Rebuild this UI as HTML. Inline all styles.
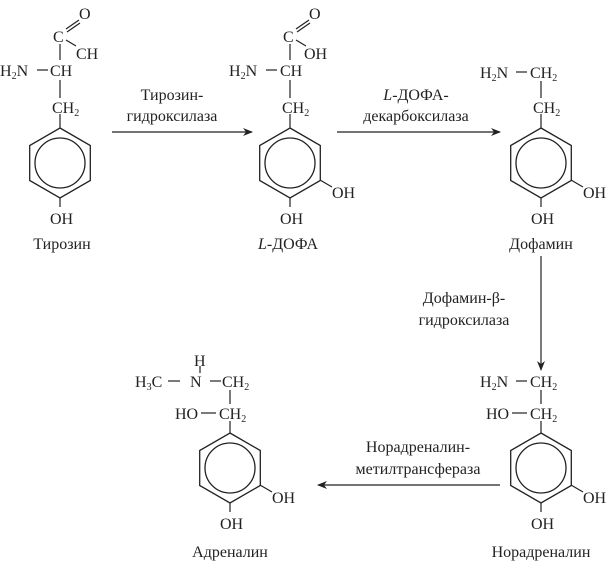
<!DOCTYPE html>
<html><head><meta charset="utf-8"><style>
html,body{margin:0;padding:0;background:#fff}
svg{display:block}
text{font-family:"Liberation Serif",serif;font-size:16px;fill:#222}
.s{font-size:10px}
</style></head><body>
<svg width="611" height="570" viewBox="0 0 611 570" xmlns="http://www.w3.org/2000/svg">
<defs>
<g id="ring" fill="none" stroke="#222" stroke-width="1.3">
<polygon points="0,-35 30.3,-17.5 30.3,17.5 0,35 -30.3,17.5 -30.3,-17.5"/>
<circle r="25"/>
</g>
<marker id="ar" markerWidth="10" markerHeight="8" refX="9" refY="4" orient="auto" markerUnits="userSpaceOnUse">
<path d="M0,0 L10,4 L0,8 L3,4 Z" fill="#222"/>
</marker>
</defs>
<g stroke="#222" stroke-width="1.2" fill="none">
<line x1="60" y1="44" x2="60" y2="60"/>
<line x1="66" y1="29" x2="79" y2="20"/><line x1="67" y1="32" x2="80" y2="23"/>
<line x1="66" y1="40" x2="76" y2="46"/>
<line x1="37" y1="70" x2="48" y2="70"/>
<line x1="60" y1="80" x2="60" y2="98"/>
<line x1="60" y1="114" x2="60" y2="128"/>
<line x1="60" y1="198" x2="60" y2="207"/>
<line x1="290" y1="44" x2="290" y2="60"/>
<line x1="296" y1="29" x2="309" y2="20"/><line x1="297" y1="32" x2="310" y2="23"/>
<line x1="296" y1="40" x2="306" y2="46"/>
<line x1="266" y1="70" x2="277" y2="70"/>
<line x1="290" y1="80" x2="290" y2="98"/>
<line x1="290" y1="114" x2="290" y2="128"/>
<line x1="290" y1="198" x2="290" y2="207"/>
<line x1="320" y1="180" x2="332" y2="187"/>
<line x1="516" y1="72" x2="527" y2="72"/>
<line x1="541" y1="81" x2="541" y2="98"/>
<line x1="541" y1="114" x2="541" y2="128"/>
<line x1="541" y1="198" x2="541" y2="207"/>
<line x1="571" y1="180" x2="583" y2="187"/>
<line x1="516" y1="381" x2="527" y2="381"/>
<line x1="541" y1="390" x2="541" y2="404"/>
<line x1="512" y1="413" x2="527" y2="413"/>
<line x1="541" y1="421" x2="541" y2="433"/>
<line x1="541" y1="503" x2="541" y2="512"/>
<line x1="571" y1="485" x2="583" y2="492"/>
<line x1="168" y1="381" x2="180" y2="381"/>
<line x1="200" y1="366" x2="200" y2="373"/>
<line x1="210" y1="381" x2="221" y2="381"/>
<line x1="230" y1="390" x2="230" y2="404"/>
<line x1="201" y1="413" x2="216" y2="413"/>
<line x1="230" y1="421" x2="230" y2="433"/>
<line x1="230" y1="503" x2="230" y2="512"/>
<line x1="260" y1="485" x2="272" y2="492"/>
<line x1="112" y1="132" x2="252" y2="132" marker-end="url(#ar)"/>
<line x1="337" y1="132" x2="500" y2="132" marker-end="url(#ar)"/>
<line x1="541" y1="256" x2="541" y2="370" marker-end="url(#ar)"/>
<line x1="500" y1="485" x2="318" y2="485" marker-end="url(#ar)"/>
</g>
<use href="#ring" x="60" y="163"/>
<use href="#ring" x="290" y="163"/>
<use href="#ring" x="541" y="163"/>
<use href="#ring" x="541" y="468"/>
<use href="#ring" x="230" y="468"/>

<text x="79" y="19">O</text>
<text x="53" y="42">C</text>
<text x="76" y="59">CH</text>
<text x="0" y="76">H<tspan class="s" dy="3">2</tspan><tspan dy="-3">N</tspan></text>
<text x="50" y="76">CH</text>
<text x="52" y="113">CH<tspan class="s" dy="3">2</tspan></text>
<text x="50" y="224">OH</text>
<text x="62" y="249" text-anchor="middle">Тирозин</text>

<text x="309" y="19">O</text>
<text x="283" y="42">C</text>
<text x="304" y="59">OH</text>
<text x="229" y="76">H<tspan class="s" dy="3">2</tspan><tspan dy="-3">N</tspan></text>
<text x="280" y="76">CH</text>
<text x="282" y="113">CH<tspan class="s" dy="3">2</tspan></text>
<text x="332" y="198">OH</text>
<text x="280" y="224">OH</text>
<text x="288" y="249" text-anchor="middle"><tspan font-style="italic">L</tspan>-ДОФА</text>

<text x="480" y="78">H<tspan class="s" dy="3">2</tspan><tspan dy="-3">N</tspan></text>
<text x="530" y="78">CH<tspan class="s" dy="3">2</tspan></text>
<text x="533" y="113">CH<tspan class="s" dy="3">2</tspan></text>
<text x="583" y="198">OH</text>
<text x="531" y="224">OH</text>
<text x="541" y="249" text-anchor="middle">Дофамин</text>

<text x="480" y="387">H<tspan class="s" dy="3">2</tspan><tspan dy="-3">N</tspan></text>
<text x="530" y="387">CH<tspan class="s" dy="3">2</tspan></text>
<text x="486" y="419">HO</text>
<text x="530" y="419">CH<tspan class="s" dy="3">2</tspan></text>
<text x="583" y="503">OH</text>
<text x="531" y="529">OH</text>
<text x="541" y="557" text-anchor="middle">Норадреналин</text>

<text x="194" y="366">H</text>
<text x="135" y="387">H<tspan class="s" dy="3">3</tspan><tspan dy="-3">C</tspan></text>
<text x="190" y="387">N</text>
<text x="222" y="387">CH<tspan class="s" dy="3">2</tspan></text>
<text x="175" y="419">HO</text>
<text x="219" y="419">CH<tspan class="s" dy="3">2</tspan></text>
<text x="272" y="503">OH</text>
<text x="220" y="529">OH</text>
<text x="230" y="557" text-anchor="middle">Адреналин</text>

<text x="172" y="100" text-anchor="middle">Тирозин-</text>
<text x="172" y="121" text-anchor="middle">гидроксилаза</text>
<text x="416" y="100" text-anchor="middle"><tspan font-style="italic">L</tspan>-ДОФА-</text>
<text x="416" y="121" text-anchor="middle">декарбоксилаза</text>
<text x="464" y="303" text-anchor="middle">Дофамин-β-</text>
<text x="464" y="325" text-anchor="middle">гидроксилаза</text>
<text x="418" y="452" text-anchor="middle">Норадреналин-</text>
<text x="418" y="474" text-anchor="middle">метилтрансфераза</text>
</svg>
</body></html>
